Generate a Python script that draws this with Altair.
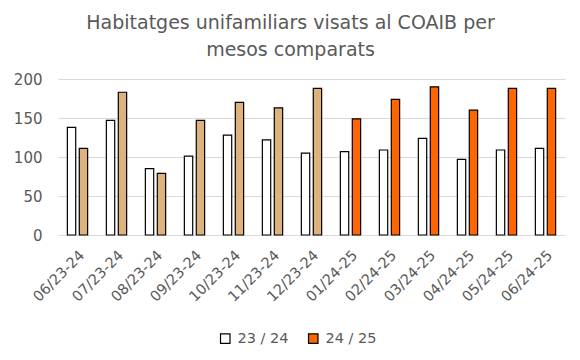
import altair as alt
import pandas as pd

months = ["06/23-24", "07/23-24", "08/23-24", "09/23-24", "10/23-24", "11/23-24", "12/23-24",
          "01/24-25", "02/24-25", "03/24-25", "04/24-25", "05/24-25", "06/24-25"]
s2324 = [138, 147, 85, 101, 128, 122, 105, 107, 109, 124, 97, 109, 111]
s2425 = [111, 183, 79, 147, 170, 163, 188, 149, 174, 190, 160, 188, 188]
earlier = [True] * 7 + [False] * 6

rows = []
for m, a, b, e in zip(months, s2324, s2425, earlier):
    rows.append({"mes": m, "serie": "23 / 24", "valor": a, "tan": False})
    rows.append({"mes": m, "serie": "24 / 25", "valor": b, "tan": e})
df = pd.DataFrame(rows)

grey = "#595959"
font = "DejaVu Sans"

chart = alt.Chart(df).mark_bar(stroke="black", strokeWidth=1.2).encode(
    x=alt.X("mes:N", sort=months, title=None,
            scale=alt.Scale(paddingInner=0.48, paddingOuter=0.24),
            axis=alt.Axis(labelAngle=-45, labelFontSize=14.5, labelColor=grey, labelFont=font,
                          ticks=False, domainColor="#D9D9D9", labelPadding=13)),
    xOffset=alt.XOffset("serie:N", scale=alt.Scale(paddingInner=0.3)),
    y=alt.Y("valor:Q", title=None, scale=alt.Scale(domain=[0, 200]),
            axis=alt.Axis(values=[0, 50, 100, 150, 200], labelFontSize=15, labelColor=grey,
                          labelFont=font, ticks=False, domain=False,
                          gridColor="#D9D9D9", labelPadding=16)),
    fill=alt.condition("datum.tan", alt.value("#DDB27C"),
                       alt.Fill("serie:N", scale=alt.Scale(domain=["23 / 24", "24 / 25"],
                                                           range=["#FFFFFF", "#FF6600"]),
                                legend=alt.Legend(title=None, orient="none", direction="horizontal",
                                                  legendX=160, legendY=252, symbolType="square",
                                                  symbolSize=90, symbolStrokeColor="black",
                                                  symbolStrokeWidth=1.2, labelFontSize=14.5,
                                                  labelColor=grey, labelFont=font,
                                                  labelOffset=5, columnPadding=17))),
).properties(
    width=507, height=156,
    title=alt.TitleParams(["Habitatges unifamiliars visats al COAIB per", "mesos comparats"],
                          fontSize=19, font=font, fontWeight="normal", color=grey,
                          lineHeight=27, offset=12, anchor="middle", dx=-21),
    autosize=alt.AutoSizeParams(type="none"),
    padding={"left": 50, "top": 71, "right": 7, "bottom": 117},
).configure_view(stroke=None)

chart.save("out.html", embed_options={"renderer": "svg", "actions": False})
